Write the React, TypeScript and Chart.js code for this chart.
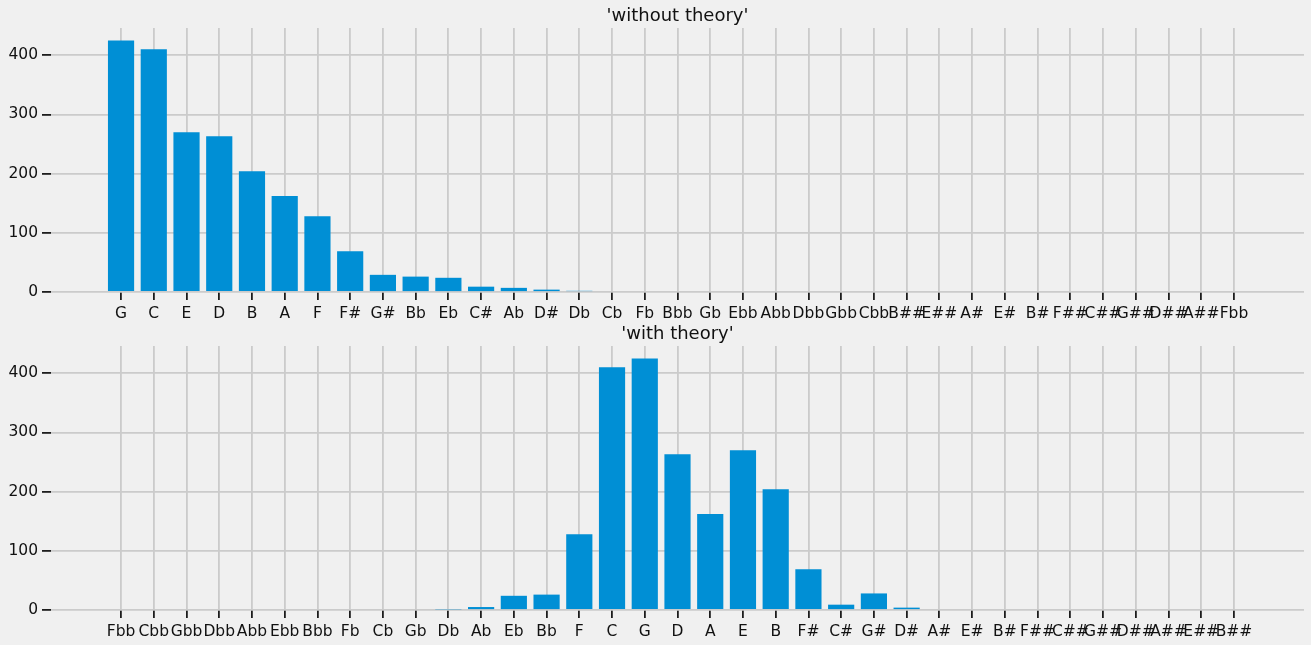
import React, { useEffect, useRef } from "react";
import { Chart, registerables } from "chart.js";

Chart.register(...registerables);

const TOP_TITLE = "'without theory'";
const TOP_NOTES = [
  "G", "C", "E", "D", "B", "A", "F", "F#", "G#", "Bb", "Eb", "C#", "Ab", "D#", "Db",
  "Cb", "Fb", "Bbb", "Gb", "Ebb", "Abb", "Dbb", "Gbb", "Cbb", "B##", "E##", "A#", "E#",
  "B#", "F##", "C##", "G##", "D##", "A##", "Fbb",
];
const TOP_COUNTS = [
  425, 410, 270, 263, 204, 162, 128, 69, 29, 26, 24, 9, 7, 4, 2,
  0, 0, 0, 0, 0, 0, 0, 0, 0, 0, 0, 0, 0,
  0, 0, 0, 0, 0, 0, 0,
];

const BOTTOM_TITLE = "'with theory'";
const BOTTOM_NOTES = [
  "Fbb", "Cbb", "Gbb", "Dbb", "Abb", "Ebb", "Bbb", "Fb", "Cb", "Gb", "Db", "Ab", "Eb", "Bb",
  "F", "C", "G", "D", "A", "E", "B", "F#", "C#", "G#", "D#", "A#", "E#", "B#", "F##", "C##",
  "G##", "D##", "A##", "E##", "B##",
];
const BOTTOM_COUNTS = [
  0, 0, 0, 0, 0, 0, 0, 0, 0, 0, 1, 5, 24, 26,
  128, 410, 425, 263, 162, 270, 204, 69, 9, 28, 4, 0, 0, 0, 0, 0,
  0, 0, 0, 0, 0,
];

const Y_TICKS = [0, 100, 200, 300, 400];
const Y_MAX = 446;
const X_MIN = -2.14;
const X_MAX = 36.14;

const BAR = "#008fd5";
const GRID = "#cbcbcb";
const TICK = "#111111";
const TEXT = "#111111";
const BG = "#f0f0f0";
const FONT = "'DejaVu Sans', sans-serif";

const W = 1311;
const H = 322;

function makeTitlePlugin(title: string) {
  return {
    id: "centerTitle",
    afterDraw(chart: any) {
      const { ctx, chartArea } = chart;
      ctx.save();
      ctx.font = `18px ${FONT}`;
      ctx.fillStyle = TEXT;
      ctx.textAlign = "center";
      ctx.textBaseline = "alphabetic";
      ctx.fillText(title, (chartArea.left + chartArea.right) / 2, 21);
      ctx.restore();
    },
  };
}

function Panel(props: { title: string; notes: string[]; counts: number[]; top: number }) {
  const { title, notes, counts, top } = props;
  const ref = useRef<HTMLCanvasElement>(null);

  useEffect(() => {
    if (!ref.current) return;
    const chart = new Chart(ref.current, {
      type: "bar",
      data: {
        datasets: [
          {
            data: counts.map((v, i) => ({ x: i, y: v })),
            backgroundColor: BAR,
            borderWidth: 0,
            categoryPercentage: 1,
            barPercentage: 0.8,
          } as any,
        ],
      },
      options: {
        animation: false,
        responsive: false,
        devicePixelRatio: 1,
        events: [],
        layout: { padding: { top: 28, right: 7, left: 0, bottom: 0 } },
        plugins: {
          legend: { display: false },
          tooltip: { enabled: false },
          title: { display: false },
        },
        scales: {
          x: {
            type: "linear",
            min: X_MIN,
            max: X_MAX,
            offset: false,
            grid: {
              offset: false,
              color: GRID,
              lineWidth: 1.8,
              drawTicks: true,
              tickColor: TICK,
              tickWidth: 1.7,
              tickLength: 8,
            },
            border: { display: false },
            afterBuildTicks: (s: any) => {
              s.ticks = notes.map((_, i) => ({ value: i }));
            },
            afterFit: (s: any) => {
              s.height = 30;
            },
            ticks: {
              autoSkip: false,
              maxRotation: 0,
              minRotation: 0,
              padding: 5,
              color: TEXT,
              font: { family: FONT, size: 15.5 },
              callback: (v: any) => notes[v as number] ?? "",
            },
          },
          y: {
            min: 0,
            max: Y_MAX,
            grid: {
              color: GRID,
              lineWidth: 1.8,
              drawTicks: true,
              tickColor: TICK,
              tickWidth: 1.7,
              tickLength: 9,
            },
            border: { display: false },
            afterBuildTicks: (s: any) => {
              s.ticks = Y_TICKS.map((v) => ({ value: v }));
            },
            afterFit: (s: any) => {
              s.width = 51;
            },
            ticks: {
              padding: 4,
              color: TEXT,
              font: { family: FONT, size: 15.5 },
            },
          },
        },
      } as any,
      plugins: [makeTitlePlugin(title)],
    });
    return () => chart.destroy();
  }, []);

  return (
    <canvas
      ref={ref}
      width={W}
      height={H}
      style={{ position: "absolute", left: 0, top, width: W, height: H }}
    />
  );
}

export default function App() {
  return (
    <div
      style={{
        position: "fixed",
        left: 0,
        top: 0,
        width: W,
        height: 645,
        background: BG,
        overflow: "hidden",
      }}
    >
      <Panel title={TOP_TITLE} notes={TOP_NOTES} counts={TOP_COUNTS} top={0} />
      <Panel title={BOTTOM_TITLE} notes={BOTTOM_NOTES} counts={BOTTOM_COUNTS} top={318} />
    </div>
  );
}
